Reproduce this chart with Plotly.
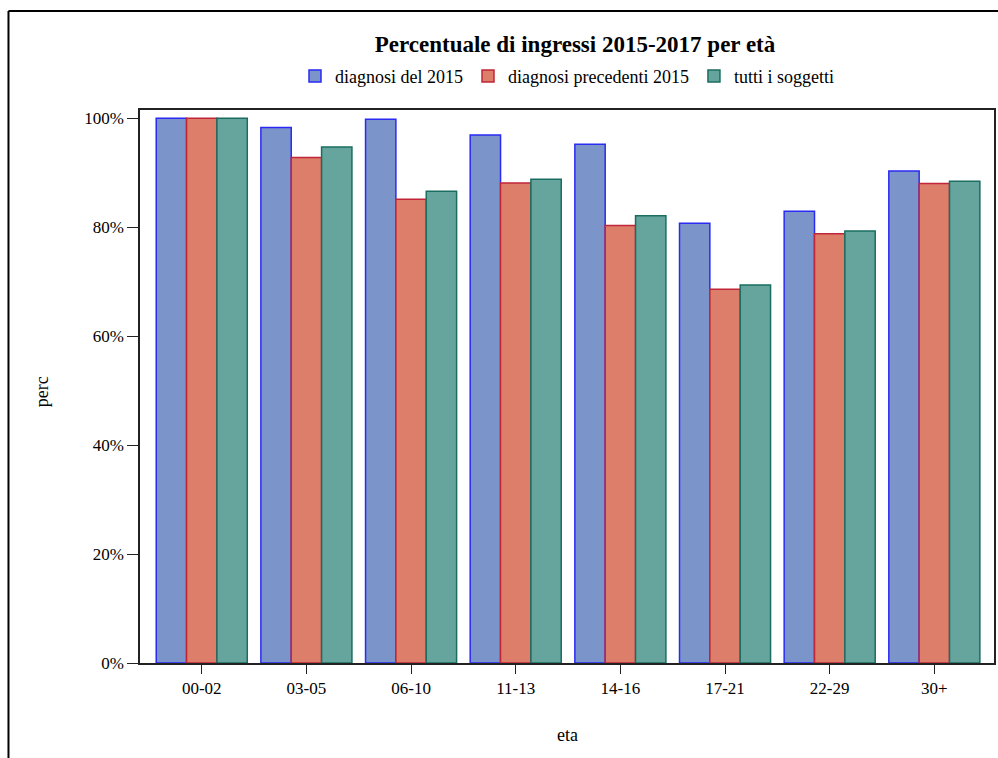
import plotly.graph_objects as go

# age classes
eta = ['00-02', '03-05', '06-10', '11-13', '14-16', '17-21', '22-29', '30+']

# percentage of entries by group
diagnosi_2015 = [100.0, 98.3, 99.8, 96.9, 95.2, 80.7, 82.9, 90.3]
diagnosi_precedenti = [100.0, 92.8, 85.1, 88.1, 80.3, 68.6, 78.8, 88.0]
tutti_soggetti = [100.0, 94.7, 86.6, 88.8, 82.1, 69.4, 79.3, 88.4]

# y tick labels
y_ticks = [0, 20, 40, 60, 80, 100]
y_labels = ['0%', '20%', '40%', '60%', '80%', '100%']

serie = [
    ('diagnosi del 2015', diagnosi_2015, '#7B95CB', '#2A2AF2'),
    ('diagnosi precedenti 2015', diagnosi_precedenti, '#DD7E6B', '#C02638'),
    ('tutti i soggetti', tutti_soggetti, '#66A59D', '#1A6E60'),
]

font_family = 'Liberation Serif, Times New Roman, serif'

fig = go.Figure()
for nome, valori, fill, line in serie:
    fig.add_trace(go.Bar(
        x=eta, y=valori, name=nome,
        marker=dict(color=fill, line=dict(color=line, width=1.5)),
    ))

fig.update_layout(
    width=998, height=758,
    margin=dict(l=140, r=2, t=110, b=95),
    paper_bgcolor='white', plot_bgcolor='white',
    font=dict(family=font_family, size=17, color='black'),
    barmode='group', bargap=0.13, bargroupgap=0,
    title=dict(text='<b>Percentuale di ingressi 2015-2017 per età</b>',
               x=575 / 998, xanchor='center', xref='container',
               y=1 - 44 / 758, yanchor='middle', yref='container',
               font=dict(size=23, family=font_family)),
    legend=dict(orientation='h', x=0.5, xanchor='center', y=1.061, yanchor='middle',
                font=dict(size=18), itemwidth=30, traceorder='normal'),
    showlegend=True,
)

fig.update_xaxes(
    type='category',
    showline=True, linecolor='#222', linewidth=1.5, mirror=True,
    ticks='outside', ticklen=9, tickcolor='#222',
    range=[-0.59, 7.57], showgrid=False,
)
fig.update_yaxes(
    showline=True, linecolor='#222', linewidth=1.5, mirror=True,
    ticks='outside', ticklen=11, tickcolor='#222',
    range=[0, 101.5], tickvals=y_ticks, ticktext=y_labels,
    showgrid=False, zeroline=False,
)

# axis titles
fig.add_annotation(text='perc', x=-0.1145, y=0.49, xref='paper', yref='paper',
                   xanchor='center', yanchor='middle',
                   textangle=-90, showarrow=False, font=dict(size=18))
fig.add_annotation(text='eta', x=0.5, y=-0.13, xref='paper', yref='paper',
                   xanchor='center', yanchor='middle',
                   showarrow=False, font=dict(size=18))

# outer frame (left and top edges)
fig.add_shape(type='line', xref='paper', yref='paper',
              x0=-0.154, x1=-0.154, y0=1.179, y1=-0.2,
              line=dict(color='black', width=2))
fig.add_shape(type='line', xref='paper', yref='paper',
              x0=-0.154, x1=1.01, y0=1.179, y1=1.179,
              line=dict(color='black', width=2))

fig.write_html('out.html', config={'displayModeBar': False},
               post_script="document.body.style.margin='0';document.body.style.overflow='hidden';")
